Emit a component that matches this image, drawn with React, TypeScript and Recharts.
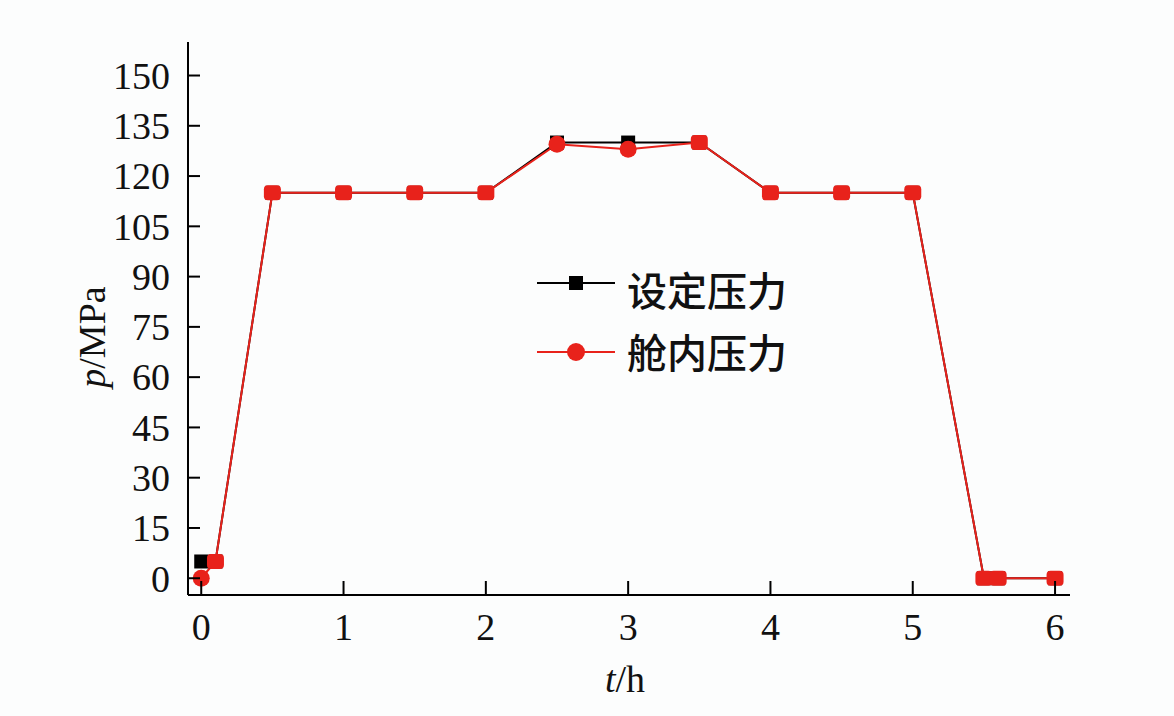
import { LineChart, Line, XAxis, YAxis } from 'recharts'

// time (h) and pressures (MPa)
const timeH = [0, 0.1, 0.5, 1, 1.5, 2, 2.5, 3, 3.5, 4, 4.5, 5, 5.5, 5.6, 6]
const setPressure = [5, 5, 115, 115, 115, 115, 130, 130, 130, 115, 115, 115, 0, 0, 0]
const cabinPressure = [0, 5, 115, 115, 115, 115, 129.5, 128, 130, 115, 115, 115, 0, 0, 0]

const xTicks = [0, 1, 2, 3, 4, 5, 6]
const yTicks = [0, 15, 30, 45, 60, 75, 90, 105, 120, 135, 150]

const SET_LABEL = '设定压力'
const CABIN_LABEL = '舱内压力'

const RED = '#e8221b'
const SERIF = '"Liberation Serif", "Times New Roman", serif'
const CJK = '"Noto Sans CJK SC", sans-serif'

const data = timeH.map((t, i) => ({ t, set: setPressure[i], cabin: cabinPressure[i] }))

function YTick({ x, y, payload }: any) {
  return (
    <g>
      <line x1={x} x2={x + 12} y1={y} y2={y} stroke="#000" strokeWidth={2} />
      <text x={x - 18} y={y} dy="0.35em" textAnchor="end" fontFamily={SERIF} fontSize={38} fill="#111">
        {payload.value}
      </text>
    </g>
  )
}

function XTick({ x, y, payload }: any) {
  return (
    <g>
      <line x1={x} x2={x} y1={y} y2={y - 14} stroke="#000" strokeWidth={2} />
      <text x={x} y={y + 45} textAnchor="middle" fontFamily={SERIF} fontSize={38} fill="#111">
        {payload.value}
      </text>
    </g>
  )
}

function SquareDot({ cx, cy }: any) {
  if (cx == null || cy == null) return null
  return <rect x={cx - 7} y={cy - 7} width={14} height={14} fill="#000" />
}

function CabinDot({ cx, cy, payload }: any) {
  if (cx == null || cy == null) return null
  // where the cabin value sits on the set value, the red marker hides the black square
  if (payload.cabin === payload.set) {
    return <rect x={cx - 8.5} y={cy - 7.5} width={17} height={15} rx={4} fill={RED} />
  }
  return <circle cx={cx} cy={cy} r={8.5} fill={RED} />
}

function LegendBox() {
  return (
    <svg width={300} height={140} style={{ position: 'absolute', left: 530, top: 250 }}>
      <line x1={7} x2={85} y1={33} y2={33} stroke="#000" strokeWidth={2} />
      <rect x={39} y={26} width={14} height={14} fill="#000" />
      <text x={97} y={42} dy="0.35em" fontFamily={CJK} fontSize={40} fontWeight={500} fill="#111">
        {SET_LABEL}
      </text>
      <line x1={7} x2={85} y1={102} y2={102} stroke={RED} strokeWidth={2} />
      <circle cx={46} cy={102} r={9} fill={RED} />
      <text x={97} y={104} dy="0.35em" fontFamily={CJK} fontSize={40} fontWeight={500} fill="#111">
        {CABIN_LABEL}
      </text>
    </svg>
  )
}

export default function App() {
  return (
    <div style={{ position: 'fixed', left: 0, top: 0, width: 1174, height: 716, background: '#fcfdfd' }}>
      <LineChart width={1174} height={716} data={data} margin={{ top: 42, right: 104, left: 0, bottom: 0 }}>
        <XAxis
          dataKey="t"
          type="number"
          domain={[-0.093, 6.105]}
          allowDataOverflow
          ticks={xTicks}
          interval={0}
          height={121}
          tickSize={0}
          tickMargin={0}
          tickLine={false}
          axisLine={{ stroke: '#000', strokeWidth: 2 }}
          tick={<XTick />}
          label={({ viewBox }: any) => (
            <text x={viewBox.x + viewBox.width / 2 - 4} y={viewBox.y + 97} textAnchor="middle" fontFamily={SERIF} fontSize={38} fill="#111">
              <tspan fontStyle="italic">t</tspan>/h
            </text>
          )}
        />
        <YAxis
          type="number"
          domain={[-5, 160]}
          allowDataOverflow
          ticks={yTicks}
          interval={0}
          width={188}
          tickSize={0}
          tickMargin={0}
          tickLine={false}
          axisLine={{ stroke: '#000', strokeWidth: 2 }}
          tick={<YTick />}
          label={({ viewBox }: any) => {
            const cx = 105
            const cy = viewBox.y + 295
            return (
              <text x={cx} y={cy} transform={`rotate(-90 ${cx} ${cy})`} textAnchor="middle" fontFamily={SERIF} fontSize={38} fill="#111">
                <tspan fontStyle="italic">p</tspan>/MPa
              </text>
            )
          }}
        />
        <Line
          dataKey="set"
          name={SET_LABEL}
          stroke="#000"
          strokeWidth={2}
          dot={<SquareDot />}
          activeDot={false}
          isAnimationActive={false}
        />
        <Line
          dataKey="cabin"
          name={CABIN_LABEL}
          stroke={RED}
          strokeWidth={2}
          dot={<CabinDot />}
          activeDot={false}
          isAnimationActive={false}
        />
      </LineChart>
      <LegendBox />
    </div>
  )
}
